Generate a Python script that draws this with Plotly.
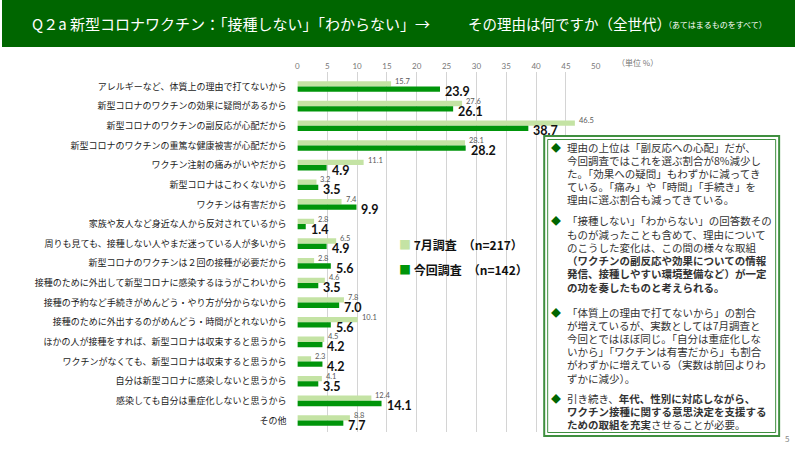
import plotly.graph_objects as go

categories = [
    "アレルギーなど、体質上の理由で打てないから",
    "新型コロナのワクチンの効果に疑問があるから",
    "新型コロナのワクチンの副反応が心配だから",
    "新型コロナのワクチンの重篤な健康被害が心配だから",
    "ワクチン注射の痛みがいやだから",
    "新型コロナはこわくないから",
    "ワクチンは有害だから",
    "家族や友人など身近な人から反対されているから",
    "周りも見ても、接種しない人やまだ迷っている人が多いから",
    "新型コロナのワクチンは２回の接種が必要だから",
    "接種のために外出して新型コロナに感染するほうがこわいから",
    "接種の予約など手続きがめんどう・やり方が分からないから",
    "接種のために外出するのがめんどう・時間がとれないから",
    "ほかの人が接種をすれば、新型コロナは収束すると思うから",
    "ワクチンがなくても、新型コロナは収束すると思うから",
    "自分は新型コロナに感染しないと思うから",
    "感染しても自分は重症化しないと思うから",
    "その他",
]
july_values = [15.7, 27.6, 46.5, 28.1, 11.1, 3.2, 7.4, 2.8, 6.5, 2.8, 4.6, 7.8, 10.1, 4.5, 2.3, 4.1, 12.4, 8.8]
current_values = [23.9, 26.1, 38.7, 28.2, 4.9, 3.5, 9.9, 1.4, 4.9, 5.6, 3.5, 7.0, 5.6, 4.2, 4.2, 3.5, 14.1, 7.7]
series_names = ["7月調査　（n=217）", "今回調査　（n=142）"]
x_ticks = [0, 5, 10, 15, 20, 25, 30, 35, 40, 45, 50]

title_main = "Q２a 新型コロナワクチン：「接種しない」「わからない」→"
title_sub = "その理由は何ですか（全世代）"
title_note = "（あてはまるものをすべて）"

para_lines = [
    ["理由の上位は「副反応への心配」だが、",
     "今回調査ではこれを選ぶ割合が8%減少し",
     "た。「効果への疑問」もわずかに減ってき",
     "ている。「痛み」や「時間」「手続き」を",
     "理由に選ぶ割合も減ってきている。"],
    ["「接種しない」「わからない」の回答数その",
     "ものが減ったことも含めて、理由について",
     "のこうした変化は、この間の様々な取組",
     "<b>（ワクチンの副反応や効果についての情報</b>",
     "<b>発信、接種しやすい環境整備など）が一定</b>",
     "<b>の功を奏したものと考えられる。</b>"],
    ["「体質上の理由で打てないから」の割合",
     "が増えているが、実数としては7月調査と",
     "今回とではほぼ同じ。「自分は重症化しな",
     "いから」「ワクチンは有害だから」も割合",
     "がわずかに増えている（実数は前回よりわ",
     "ずかに減少）。"],
    ["引き続き、<b>年代、性別に対応しながら、</b>",
     "<b>ワクチン接種に関する意思決定を支援する</b>",
     "<b>ための取組を充実</b>させることが必要。"],
]

W, H = 800, 450
def px(x): return x / W
def py(y): return 1 - y / H

LIGHT = "#c4e3a4"
DARK = "#00950a"
TITLE_BG = "#006600"
JP = "Noto Sans CJK JP"

fig = go.Figure()
fig.add_trace(go.Bar(
    y=categories, x=july_values, orientation="h", name=series_names[0],
    marker=dict(color=LIGHT, line=dict(width=0)), showlegend=False,
))
fig.add_trace(go.Bar(
    y=categories, x=current_values, orientation="h", name=series_names[1],
    marker=dict(color=DARK, line=dict(width=0)), showlegend=False,
))

fig.update_layout(
    width=W, height=H, margin=dict(l=0, r=0, t=0, b=0),
    paper_bgcolor="white", plot_bgcolor="white",
    barmode="group", bargap=0.46, bargroupgap=0,
    font=dict(family=JP),
    xaxis=dict(domain=[px(298), px(599)], range=[0, 50], side="top",
               tickvals=x_ticks, showgrid=True, gridcolor="#d4d4d4", gridwidth=1,
               zeroline=False, showline=False, ticks="",
               tickfont=dict(size=8, color="#777777", family="Lato")),
    yaxis=dict(domain=[py(432), py(72)], autorange="reversed",
               showgrid=False, zeroline=False, showline=False, ticks="",
               ticklabelstandoff=10,
               tickfont=dict(size=9, color="#1a1a1a", family=JP)),
)

shapes = [
    dict(type="rect", xref="paper", yref="paper", x0=0, x1=1, y0=py(47), y1=1,
         fillcolor=TITLE_BG, line=dict(width=0), layer="below"),
    dict(type="rect", xref="paper", yref="paper", x0=px(547), x1=px(784), y0=py(436), y1=py(136),
         fillcolor="white", line=dict(color="#3f8f3f", width=2)),
    dict(type="rect", xref="paper", yref="paper", x0=px(550.5), x1=px(780.5), y0=py(432.5), y1=py(139.5),
         fillcolor="rgba(0,0,0,0)", line=dict(color="#3f8f3f", width=1)),
]
fig.update_layout(shapes=shapes)

ann = []
def add(text, x, y, size, color, xanchor="left", yanchor="middle", family=JP):
    ann.append(dict(text=text, x=px(x), y=py(y), xref="paper", yref="paper",
                    xanchor=xanchor, yanchor=yanchor, showarrow=False,
                    font=dict(size=size, color=color, family=family)))

# value labels via data coordinates
for cat, v in zip(categories, july_values):
    ann.append(dict(text=f"{v:.1f}", x=v, y=cat, xref="x", yref="y",
                    xanchor="left", yanchor="middle", xshift=2, yshift=5,
                    showarrow=False, font=dict(size=7.5, color="#595959", family="Lato")))
for cat, v in zip(categories, current_values):
    ann.append(dict(text=f"<b>{v:.1f}</b>", x=v, y=cat, xref="x", yref="y",
                    xanchor="left", yanchor="middle", xshift=3, yshift=-5,
                    showarrow=False, font=dict(size=12.5, color="#111111", family="Lato")))

add(title_main, 28, 23, 15, "white")
add(title_sub, 468, 23, 14.5, "white")
add(title_note, 666, 24, 8, "white")
add("（単位 %）", 618, 62, 8, "#777777")
add("5", 792, 438, 8, "#888888", xanchor="center")

# legend
add(f"<span style='color:{LIGHT}'>■</span> <b>{series_names[0]}</b>", 398, 245, 12, "#111111")
add(f"<span style='color:{DARK}'>■</span> <b>{series_names[1]}</b>", 398, 269, 12, "#111111")

# text box
starts = [147, 221, 312, 398]
step = 13.2
for start, lines in zip(starts, para_lines):
    add("◆", 552, start, 10, TITLE_BG)
    for i, line in enumerate(lines):
        add(line, 568, start + i * step, 10.5, "#333333")

fig.update_layout(annotations=ann)
fig.write_html("out.html")
